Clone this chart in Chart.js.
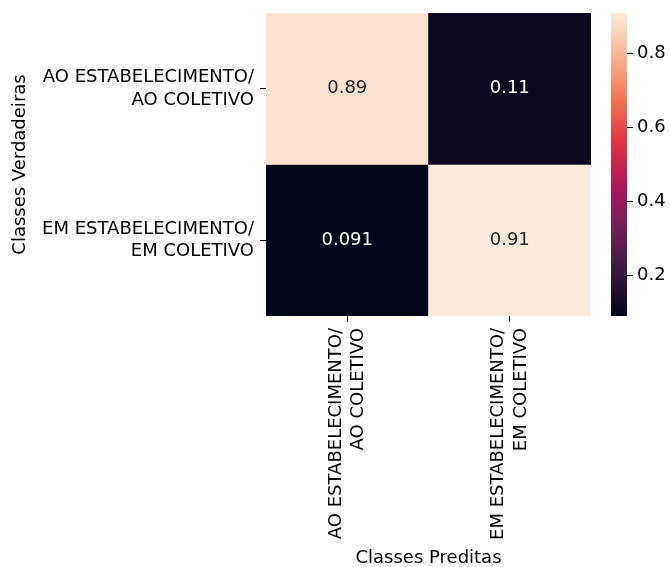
<!DOCTYPE html>
<html>
<head>
<meta charset="utf-8">
<script src="https://cdn.jsdelivr.net/npm/chart.js@4"></script>
<style>
  body { margin: 0; background: #fff; }
  #main { position: absolute; left: 0; top: 0; width: 600px; height: 567px; }
  #barra { position: absolute; left: 600px; top: 0; width: 70px; height: 567px; }
</style>
</head>
<body>
<div id="main"><canvas id="matriz"></canvas></div>
<div id="barra"><canvas id="escala"></canvas></div>
<script>
//Dados da matriz de confusão (normalizada)
const classesVerdadeiras = [["AO ESTABELECIMENTO/", "AO COLETIVO"], ["EM ESTABELECIMENTO/", "EM COLETIVO"]];
const classesPreditas = [["AO ESTABELECIMENTO/", "AO COLETIVO"], ["EM ESTABELECIMENTO/", "EM COLETIVO"]];
const linhaAo = [0.89, 0.11];
const linhaEm = [0.091, 0.91];
const ticksBarra = [0.2, 0.4, 0.6, 0.8];

const linhas = [linhaAo, linhaEm];
const todos = linhas.flat();
const vmin = Math.min(...todos);
const vmax = Math.max(...todos);

//Paleta "rocket" (seaborn)
const paleta = ["#03051a", "#35193e", "#701f57", "#ad1759", "#e13342", "#f37651", "#f6b48f", "#faebdd"];

function hexParaRgb(h) {
  return [1, 3, 5].map((i) => parseInt(h.slice(i, i + 2), 16));
}

function normaliza(v) {
  return (v - vmin) / (vmax - vmin);
}

function corDoMapa(v) {
  const t = Math.min(1, Math.max(0, normaliza(v))) * (paleta.length - 1);
  const i = Math.min(paleta.length - 2, Math.floor(t));
  const f = t - i;
  const a = hexParaRgb(paleta[i]);
  const b = hexParaRgb(paleta[i + 1]);
  const c = a.map((x, k) => Math.round(x + (b[k] - x) * f));
  return `rgb(${c[0]}, ${c[1]}, ${c[2]})`;
}

function formata(v) {
  return String(Number(v.toPrecision(2)));
}

Chart.defaults.font.family = "'DejaVu Sans', sans-serif";
Chart.defaults.font.size = 18;
Chart.defaults.color = "#000";

//Escreve os valores dentro das células
const rotulos = {
  id: "rotulos",
  afterDatasetsDraw(chart) {
    const ctx = chart.ctx;
    ctx.save();
    ctx.font = "18px 'DejaVu Sans'";
    ctx.textAlign = "center";
    ctx.textBaseline = "middle";
    chart.data.datasets.forEach((ds, i) => {
      chart.getDatasetMeta(i).data.forEach((bar, j) => {
        const v = ds.valores[j];
        const rgb = corDoMapa(v).match(/\d+/g).map(Number);
        const lum = (0.2126 * rgb[0] + 0.7152 * rgb[1] + 0.0722 * rgb[2]) / 255;
        ctx.fillStyle = lum > 0.408 ? "#262626" : "#ffffff";
        ctx.fillText(formata(v), bar.x, (bar.y + bar.base) / 2);
      });
    });
    ctx.restore();
  }
};

//Tira as margens extras que o Chart.js reserva para os rótulos
const semMargens = (s) => { s.paddingTop = 0; s.paddingBottom = 0; s.paddingLeft = 0; s.paddingRight = 0; };

const matriz = new Chart(document.getElementById("matriz"), {
  type: "bar",
  data: {
    labels: classesPreditas,
    datasets: linhas.map((valores, i) => ({
      data: valores.map(() => [i, i + 1]),
      valores: valores,
      backgroundColor: valores.map(corDoMapa),
      borderWidth: 0,
      grouped: false,
      barPercentage: 1,
      categoryPercentage: 1
    }))
  },
  options: {
    responsive: true,
    maintainAspectRatio: false,
    animation: false,
    layout: { padding: { top: 13, right: 9, left: 0, bottom: 0 } },
    scales: {
      x: {
        type: "category",
        offset: true,
        grid: { offset: false, drawOnChartArea: false, tickLength: 6, color: "#000" },
        border: { display: false },
        ticks: { minRotation: 90, maxRotation: 90, padding: 6, labelOffset: -11.25, autoSkip: false, font: { lineHeight: 1.25 } },
        afterFit: (s) => { s.height = 251; semMargens(s); },
        title: { display: true, text: "Classes Preditas", padding: 0, font: { lineHeight: 1 } }
      },
      y: {
        type: "linear",
        min: 0,
        max: linhas.length,
        reverse: true,
        afterBuildTicks: (s) => { s.ticks = classesVerdadeiras.map((_, i) => ({ value: i + 0.5 })); },
        afterFit: (s) => { s.width = 266; semMargens(s); },
        ticks: { callback: (v) => classesVerdadeiras[Math.floor(v)], padding: 6, font: { lineHeight: 1.25 } },
        grid: { drawOnChartArea: false, tickLength: 6, color: "#000" },
        border: { display: false },
        title: { display: true, text: "Classes Verdadeiras", padding: { top: 10, bottom: 0 } }
      }
    },
    plugins: {
      legend: { display: false },
      tooltip: { enabled: false }
    }
  },
  plugins: [rotulos]
});

//Barra de cores
const escala = new Chart(document.getElementById("escala"), {
  type: "bar",
  data: {
    labels: [""],
    datasets: [{
      data: [[vmin, vmax]],
      borderWidth: 0,
      barPercentage: 1,
      categoryPercentage: 1,
      backgroundColor: (context) => {
        const chart = context.chart;
        if (!chart.chartArea) return paleta[0];
        const y = chart.scales.y;
        const g = chart.ctx.createLinearGradient(0, y.getPixelForValue(vmin), 0, y.getPixelForValue(vmax));
        paleta.forEach((c, k) => g.addColorStop(k / (paleta.length - 1), c));
        return g;
      }
    }]
  },
  options: {
    responsive: true,
    maintainAspectRatio: false,
    animation: false,
    layout: { padding: { top: 13, left: 11, right: 0, bottom: 251 } },
    scales: {
      x: { display: false, offset: true },
      y: {
        position: "right",
        min: vmin,
        max: vmax,
        afterBuildTicks: (s) => { s.ticks = ticksBarra.map((v) => ({ value: v })); },
        afterFit: (s) => { s.width = 43; semMargens(s); },
        ticks: { padding: 4, callback: (v) => v.toFixed(1) },
        grid: { drawOnChartArea: false, tickLength: 6, color: "#000" },
        border: { display: false }
      }
    },
    plugins: {
      legend: { display: false },
      tooltip: { enabled: false }
    }
  }
});
</script>
</body>
</html>
